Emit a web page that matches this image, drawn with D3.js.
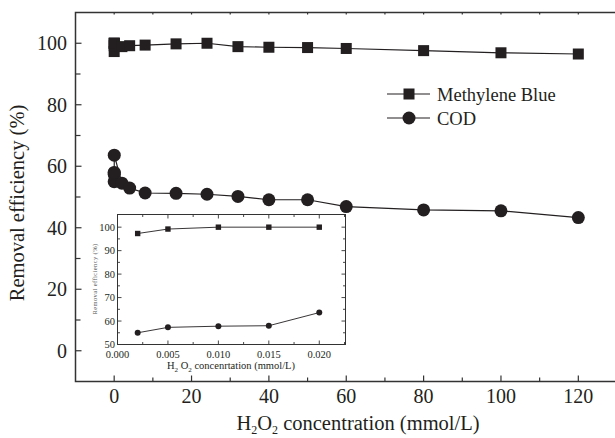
<!DOCTYPE html>
<html>
<head>
<meta charset="utf-8">
<script src="https://cdn.jsdelivr.net/npm/d3@7"></script>
</head>
<body style="margin:0;background:#fff">
<svg id="chart" width="615" height="438" style="display:block"></svg>
<script>
// H2O2 concentration (mmol/L) for the main plot
var mainConc = [0.002, 0.005, 0.01, 0.015, 0.02, 2, 4, 8, 16, 24, 32, 40, 50, 60, 80, 100, 120];
var mainBlue = [97.3, 99.2, 100, 100, 100, 98.9, 99.2, 99.4, 99.8, 100, 98.9, 98.7, 98.6, 98.3, 97.6, 96.9, 96.5];
var mainCOD  = [55.0, 57.3, 57.8, 58.0, 63.6, 54.5, 52.9, 51.3, 51.2, 50.9, 50.2, 49.1, 49.1, 46.9, 45.8, 45.5, 43.3];

// inset: low concentration range
var insetConc = [0.002, 0.005, 0.01, 0.015, 0.02];
var insetBlue = [97.3, 99.2, 100, 100, 100];
var insetCOD  = [55.0, 57.3, 57.8, 58.0, 63.6];

var mainXTicks = [0, 20, 40, 60, 80, 100, 120];
var mainYTicks = [0, 20, 40, 60, 80, 100];
var insetXTicks = [0, 0.005, 0.010, 0.015, 0.020];
var insetYTicks = [50, 60, 70, 80, 90, 100];

var ink = '#231f20';
var serif = '"Liberation Serif", "Times New Roman", serif';
var svg = d3.select('#chart').style('font-family', serif);

// ---------- main plot ----------
var x = d3.scaleLinear().domain([-10, 130]).range([75.5, 617]);
var y = d3.scaleLinear().domain([-10, 110]).range([381.5, 12.5]);

// frame lines (left, bottom, top)
svg.append('path')
  .attr('d', 'M617,' + y(110) + 'H' + x(-10) + 'V' + y(-10) + 'H617')
  .attr('fill', 'none').attr('stroke', '#333').attr('stroke-width', 1.5);

var minorX = d3.range(-10, 131, 10).filter(function(d) { return mainXTicks.indexOf(d) < 0 && d > -10; });
var minorY = d3.range(-10, 111, 10).filter(function(d) { return mainYTicks.indexOf(d) < 0 && d > -10 && d < 110; });

var ticks = svg.append('g').attr('stroke', '#333').attr('stroke-width', 1.2);
ticks.selectAll('.xt').data(mainXTicks).enter().append('line')
  .attr('x1', function(d) { return x(d); }).attr('x2', function(d) { return x(d); })
  .attr('y1', y(-10)).attr('y2', y(-10) - 6);
ticks.selectAll('.xm').data(minorX).enter().append('line')
  .attr('x1', function(d) { return x(d); }).attr('x2', function(d) { return x(d); })
  .attr('y1', y(-10)).attr('y2', y(-10) - 4);
ticks.selectAll('.xtop').data(d3.range(0, 130, 10)).enter().append('line')
  .attr('x1', function(d) { return x(d); }).attr('x2', function(d) { return x(d); })
  .attr('y1', y(110)).attr('y2', y(110) + 2);
ticks.selectAll('.yt').data(mainYTicks).enter().append('line')
  .attr('y1', function(d) { return y(d); }).attr('y2', function(d) { return y(d); })
  .attr('x1', x(-10)).attr('x2', x(-10) + 6);
ticks.selectAll('.ym').data(minorY).enter().append('line')
  .attr('y1', function(d) { return y(d); }).attr('y2', function(d) { return y(d); })
  .attr('x1', x(-10)).attr('x2', x(-10) + 5);

svg.append('g').selectAll('text').data(mainXTicks).enter().append('text')
  .style('font-family', serif)
  .attr('x', function(d) { return x(d); }).attr('y', 403)
  .attr('text-anchor', 'middle').attr('font-size', 20).attr('fill', ink)
  .text(function(d) { return d; });
svg.append('g').selectAll('text').data(mainYTicks).enter().append('text')
  .style('font-family', serif)
  .attr('x', 67).attr('y', function(d) { return y(d) + 7; })
  .attr('text-anchor', 'end').attr('font-size', 20).attr('fill', ink)
  .text(function(d) { return d; });

// axis titles
var xt = svg.append('text').style('font-family', serif).attr('x', 358).attr('y', 430)
  .attr('text-anchor', 'middle').attr('font-size', 20.5).attr('fill', ink);
xt.append('tspan').text('H');
xt.append('tspan').attr('font-size', 12).attr('dy', 4).text('2');
xt.append('tspan').attr('dy', -4).text('O');
xt.append('tspan').attr('font-size', 12).attr('dy', 4).text('2');
xt.append('tspan').attr('dy', -4).text(' concentration (mmol/L)');

svg.append('text').style('font-family', serif)
  .attr('transform', 'translate(24,203) rotate(-90)')
  .attr('text-anchor', 'middle').attr('font-size', 20.5).attr('fill', ink)
  .text('Removal efficiency (%)');

var line = d3.line()
  .x(function(d) { return x(d[0]); })
  .y(function(d) { return y(d[1]); });

var blueData = d3.zip(mainConc, mainBlue);
var codData = d3.zip(mainConc, mainCOD);

svg.append('path').datum(blueData).attr('d', line)
  .attr('fill', 'none').attr('stroke', ink).attr('stroke-width', 1.2);
svg.append('path').datum(codData).attr('d', line)
  .attr('fill', 'none').attr('stroke', ink).attr('stroke-width', 1.2);

svg.append('g').selectAll('rect').data(blueData).enter().append('rect')
  .attr('x', function(d) { return x(d[0]) - 5.5; })
  .attr('y', function(d) { return y(d[1]) - 5.5; })
  .attr('width', 11).attr('height', 11).attr('fill', ink);
svg.append('g').selectAll('circle').data(codData).enter().append('circle')
  .attr('cx', function(d) { return x(d[0]); })
  .attr('cy', function(d) { return y(d[1]); })
  .attr('r', 6.5).attr('fill', ink);

// legend
var legend = svg.append('g').attr('transform', 'translate(387,0)');
legend.append('line').attr('x1', 0).attr('x2', 43).attr('y1', 94).attr('y2', 94)
  .attr('stroke', ink).attr('stroke-width', 1.2);
legend.append('rect').attr('x', 16.5).attr('y', 88.5).attr('width', 11).attr('height', 11).attr('fill', ink);
legend.append('text').style('font-family', serif).attr('x', 50).attr('y', 100.5)
  .attr('font-size', 18.5).attr('fill', ink)
  .text('Methylene Blue');
legend.append('line').attr('x1', 0).attr('x2', 43).attr('y1', 118).attr('y2', 118)
  .attr('stroke', ink).attr('stroke-width', 1.2);
legend.append('circle').attr('cx', 22).attr('cy', 118).attr('r', 6.5).attr('fill', ink);
legend.append('text').style('font-family', serif).attr('x', 50).attr('y', 124.5)
  .attr('font-size', 18.5).attr('fill', ink)
  .text('COD');

// ---------- inset ----------
var ix = d3.scaleLinear().domain([0, 0.0226]).range([117.5, 345.5]);
var iy = d3.scaleLinear().domain([50, 105.4]).range([344.5, 214.5]);

var inset = svg.append('g');
inset.append('rect')
  .attr('x', ix(0)).attr('y', iy(105.4))
  .attr('width', ix(0.0226) - ix(0)).attr('height', iy(50) - iy(105.4))
  .attr('fill', '#fff').attr('stroke', '#333').attr('stroke-width', 1);

var ixMinor = d3.range(0.0025, 0.0226, 0.005);
var iyMinor = d3.range(55, 105, 10);
var it = inset.append('g').attr('stroke', '#333').attr('stroke-width', 0.9);
function vTicks(data, len) {
  it.selectAll(null).data(data).enter().append('line')
    .attr('x1', function(d) { return ix(d); }).attr('x2', function(d) { return ix(d); })
    .attr('y1', iy(50)).attr('y2', iy(50) - len);
  it.selectAll(null).data(data).enter().append('line')
    .attr('x1', function(d) { return ix(d); }).attr('x2', function(d) { return ix(d); })
    .attr('y1', iy(105.4)).attr('y2', iy(105.4) + len);
}
function hTicks(data, len) {
  it.selectAll(null).data(data).enter().append('line')
    .attr('y1', function(d) { return iy(d); }).attr('y2', function(d) { return iy(d); })
    .attr('x1', ix(0)).attr('x2', ix(0) + len);
  it.selectAll(null).data(data).enter().append('line')
    .attr('y1', function(d) { return iy(d); }).attr('y2', function(d) { return iy(d); })
    .attr('x1', ix(0.0226)).attr('x2', ix(0.0226) - len);
}
vTicks(insetXTicks, 4);
vTicks(ixMinor, 2.5);
hTicks(insetYTicks, 4);
hTicks(iyMinor, 2.5);

inset.append('g').selectAll('text').data(insetXTicks).enter().append('text')
  .style('font-family', serif)
  .attr('x', function(d) { return ix(d); }).attr('y', 358)
  .attr('text-anchor', 'middle').attr('font-size', 10.5).attr('fill', ink)
  .text(function(d) { return d3.format('.3f')(d); });
inset.append('g').selectAll('text').data(insetYTicks).enter().append('text')
  .style('font-family', serif)
  .attr('x', 115).attr('y', function(d) { return iy(d) + 3.5; })
  .attr('text-anchor', 'end').attr('font-size', 10.5).attr('fill', ink)
  .text(function(d) { return d; });

var ixt = inset.append('text').style('font-family', serif).attr('x', 231).attr('y', 369)
  .attr('text-anchor', 'middle').attr('font-size', 10.5).attr('fill', ink);
ixt.append('tspan').text('H');
ixt.append('tspan').attr('font-size', 7).attr('dy', 2.5).text('2');
ixt.append('tspan').attr('dy', -2.5).text(' O');
ixt.append('tspan').attr('font-size', 7).attr('dy', 2.5).text('2');
ixt.append('tspan').attr('dy', -2.5).text(' concenrtation (mmol/L)');

inset.append('text').style('font-family', serif)
  .attr('transform', 'translate(97,279) rotate(-90)')
  .attr('text-anchor', 'middle').attr('font-size', 6.5).attr('fill', '#555')
  .attr('letter-spacing', 0.4)
  .text('Removal efficiency (%)');

var iline = d3.line()
  .x(function(d) { return ix(d[0]); })
  .y(function(d) { return iy(d[1]); });
var iBlue = d3.zip(insetConc, insetBlue);
var iCOD = d3.zip(insetConc, insetCOD);

inset.append('path').datum(iBlue).attr('d', iline)
  .attr('fill', 'none').attr('stroke', ink).attr('stroke-width', 0.9);
inset.append('path').datum(iCOD).attr('d', iline)
  .attr('fill', 'none').attr('stroke', ink).attr('stroke-width', 0.9);
inset.append('g').selectAll('rect').data(iBlue).enter().append('rect')
  .attr('x', function(d) { return ix(d[0]) - 2.7; })
  .attr('y', function(d) { return iy(d[1]) - 2.7; })
  .attr('width', 5.4).attr('height', 5.4).attr('fill', ink);
inset.append('g').selectAll('circle').data(iCOD).enter().append('circle')
  .attr('cx', function(d) { return ix(d[0]); })
  .attr('cy', function(d) { return iy(d[1]); })
  .attr('r', 3).attr('fill', ink);
</script>
</body>
</html>
